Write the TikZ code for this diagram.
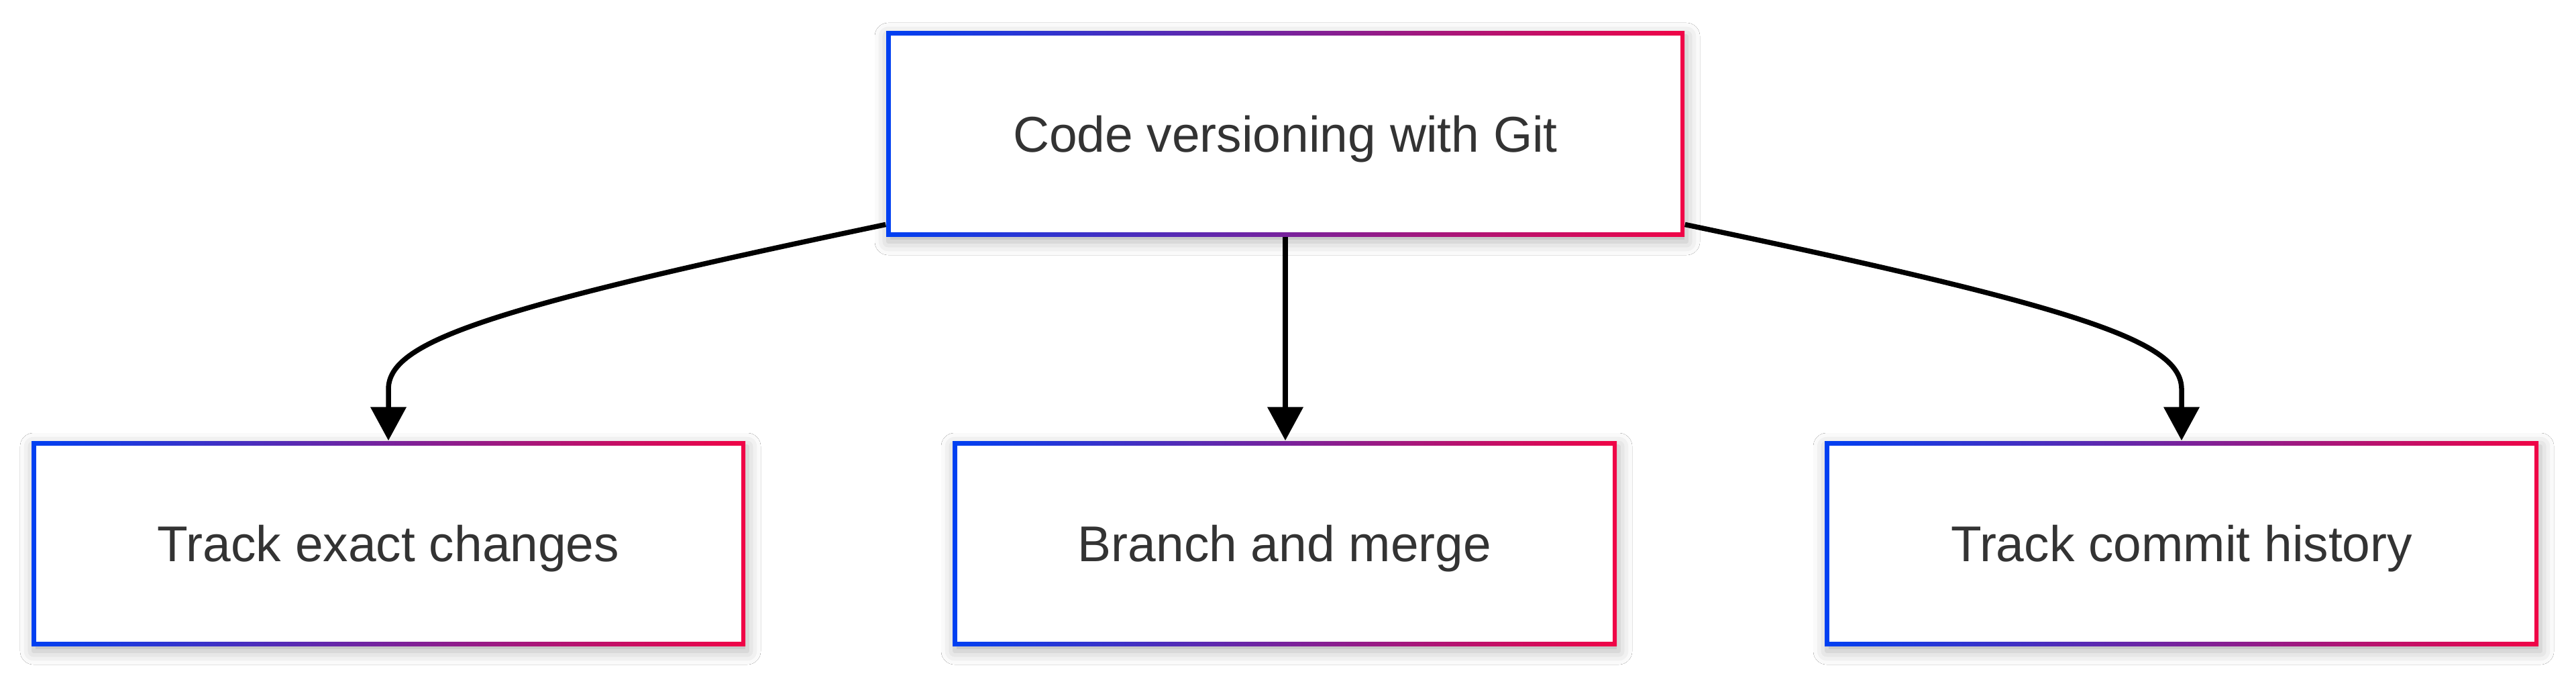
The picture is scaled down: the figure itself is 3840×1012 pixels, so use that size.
\documentclass[tikz,border=0pt]{standalone}
\usepackage{fontspec}
\setmainfont{Liberation Sans}
\usetikzlibrary{arrows.meta,shadows.blur}
\definecolor{gblue}{RGB}{0,64,242}
\definecolor{gred}{RGB}{240,4,70}
\definecolor{txtc}{RGB}{51,51,51}
\tikzset{
  txt/.style={text=txtc, font=\fontsize{21.3pt}{26pt}\selectfont, inner sep=0pt, anchor=base},
  boxnode/.style={draw=none, inner sep=0pt},
  gframe/.style={left color=gblue, right color=gred, blur shadow={shadow xshift=0.03cm, shadow yshift=-0.08cm, shadow blur radius=0.2cm, shadow opacity=30}},
  conn/.style={line width=0.075cm, black, -{Triangle[width=0.52cm,length=0.5cm]}}
}
\newcommand{\gradbox}[6]{%
  % #1 name, #2 cx, #3 cy, #4 w, #5 h, #6 text
  \shade[gframe] ({#2-#4/2},{#3-#5/2}) rectangle ({#2+#4/2},{#3+#5/2});
  \fill[white] ({#2-#4/2+6.5},{#3-#5/2+6.5}) rectangle ({#2+#4/2-6.5},{#3+#5/2-6.5});
  \node[boxnode, minimum width=#4*0.01cm, minimum height=#5*0.01cm] (#1) at (#2,#3) {};
  \node[txt] (#1-t) at (#2,#3+27) {#6};
}
\begin{document}
\begin{tikzpicture}[x=0.01cm,y=-0.01cm]
\useasboundingbox (0,0) rectangle (3840,1012);
\fill[white] (0,0) rectangle (3840,1012);
\gradbox{top}{1916}{199}{1190}{306}{Code versioning with Git}
\gradbox{left}{579}{809.5}{1064}{305}{Track exact changes}
\gradbox{mid}{1915}{809.5}{990}{305}{Branch and merge}
\gradbox{right}{3252}{809.5}{1064}{305}{Track commit history}
\coordinate (ls) at ([yshift=-2.89cm]top.north west);
\coordinate (rs) at ([yshift=-2.89cm]top.north east);
\draw[conn] (ls) .. controls (720,460) and (left.north |- 0,510) .. (left.north |- 0,580) -- (left.north);
\draw[conn] (top.south) -- (top.south |- mid.north);
\draw[conn] (rs) .. controls (3112,460) and (right.north |- 0,510) .. (right.north |- 0,580) -- (right.north);
\end{tikzpicture}
\end{document}
